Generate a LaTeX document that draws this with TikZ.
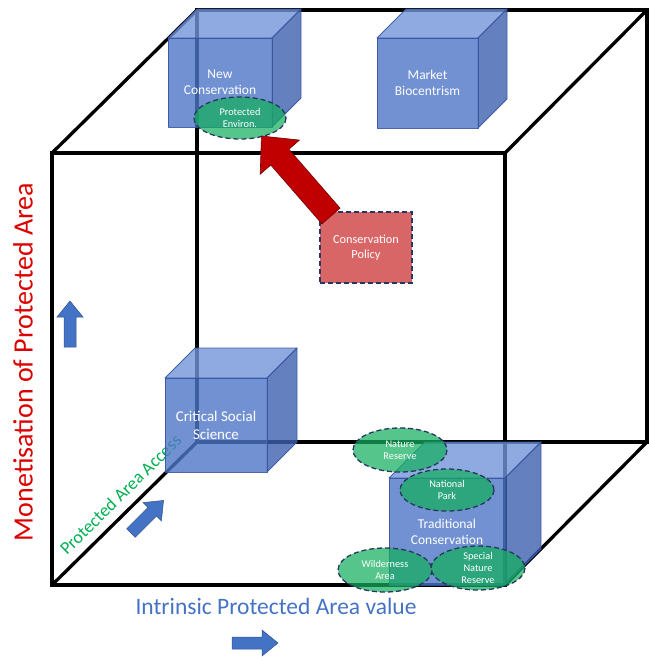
\documentclass[tikz,border=0pt]{standalone}
\usepackage{fontspec}
\setmainfont{Carlito}
\usetikzlibrary{shapes.geometric}
\definecolor{cfront}{RGB}{77,118,199}
\definecolor{ctop}{RGB}{115,149,217}
\definecolor{cside}{RGB}{61,96,174}
\definecolor{cedge}{RGB}{55,85,160}
\definecolor{ellfill}{RGB}{20,175,95}
\definecolor{elledge}{RGB}{40,55,95}
\definecolor{policyfill}{RGB}{217,102,102}
\definecolor{arrowred}{RGB}{192,0,0}
\definecolor{bluearr}{RGB}{68,114,196}
\definecolor{bluearredge}{RGB}{47,82,143}
\definecolor{axisred}{RGB}{220,0,0}
\definecolor{axisgreen}{RGB}{0,176,80}
\tikzset{
  bigedge/.style={line width=3.3pt, black, line join=miter},
  cubeface/.style={draw=cedge, line width=0.9pt, fill opacity=0.8, draw opacity=0.9, line join=round},
  cubetext/.style={text=white, align=center},
  ell/.style={draw=elledge, fill=ellfill, fill opacity=0.72, line width=1.3pt, dash pattern=on 5pt off 3pt},
  elltext/.style={text=white, align=center, font=\fontsize{10.3}{11.8}\selectfont},
  policy/.style={draw=elledge, fill=policyfill, line width=1.3pt, dash pattern=on 5pt off 3pt,
     minimum width=92pt, minimum height=71pt, text=white, align=center, font=\fontsize{12.3}{15}\selectfont},
  redarr/.style={fill=arrowred, draw=arrowred!60!black, line width=0.6pt},
  bluearrow/.style={fill=bluearr, draw=bluearredge, line width=0.5pt}
}
\newcommand\mycube[9]{%
  \path[cubeface, fill=ctop] (#2,#3) -- ++(#6,-#6) -- ++(#4,0) -- ++(-#6,#6) -- cycle;
  \path[cubeface, fill=cside] (#2+#4,#3) -- ++(#6,-#6) -- ++(0,#5) -- ++(-#6,#6) -- cycle;
  \path[cubeface, fill=cfront] (#2,#3) rectangle ++(#4,#5);
  \node[cubetext, font=\fontsize{#8}{#9}\selectfont] (#1) at (#2+#4/2,#3+#5/2) {#7};
}
\newcommand\myblue[3]{%
  \begin{scope}[shift={(#1,#2)}, rotate=#3]
    \draw[bluearrow] (0,-6) -- (30,-6) -- (30,-13) -- (46,0) -- (30,13) -- (30,6) -- (0,6) -- cycle;
  \end{scope}
}
\begin{document}
\begin{tikzpicture}[x=1pt,y=-1pt]
\useasboundingbox (0,0) rectangle (649,657);
% big cube
\coordinate (ftl) at (52,153);
\coordinate (ftr) at (505,153);
\coordinate (fbr) at (505,585);
\coordinate (fbl) at (52,585);
\coordinate (btl) at (197,10);
\coordinate (btr) at (647,10);
\coordinate (bbr) at (647,442);
\coordinate (bbl) at (197,442);
\draw[bigedge] (btl) -- (btr) -- (bbr) -- (bbl) -- cycle;
\draw[bigedge] (ftl) -- (ftr) -- (fbr) -- (fbl) -- cycle;
\draw[bigedge] (ftl) -- (btl);
\draw[bigedge] (ftr) -- (btr);
\draw[bigedge] (fbr) -- (bbr);
\draw[bigedge] (fbl) -- (bbl);
% diagonal axis label
\node[rotate=44.6, text=axisgreen, font=\fontsize{18}{20}\selectfont] (paa) at (120.5,494.5) {Protected Area Access};
% cubes
\mycube{nc}{168}{38}{104}{89}{29}{New\\Conservation}{13.5}{16}
\mycube{mb}{377}{38}{101}{90}{29}{Market\\Biocentrism}{13.5}{16}
\mycube{css}{165}{378}{102}{94}{30}{Critical Social\\Science}{15}{18}
\mycube{tc}{389}{478}{116}{107}{36}{Traditional\\Conservation}{13.5}{16}
% ellipses
\draw[ell] (240,118) ellipse [x radius=46, y radius=21];
\node[elltext] (pe) at (240,118) {Protected\\Environ.};
\draw[ell] (400,450) ellipse [x radius=47, y radius=22];
\node[elltext] (nr) at (400,450) {Nature\\Reserve};
\draw[ell] (447,490) ellipse [x radius=47, y radius=21];
\node[elltext] (np) at (447,490) {National\\Park};
\draw[ell] (385,570) ellipse [x radius=47, y radius=22];
\node[elltext] (wa) at (385,570) {Wilderness\\Area};
\draw[ell] (478,568) ellipse [x radius=47, y radius=22];
\node[elltext] (snr) at (478,568) {Special\\Nature\\Reserve};
% policy box and red arrow
\node[policy] (cp) at (366,247.5) {Conservation\\Policy};
\begin{scope}[shift={(331,216)}, rotate=131]
  \draw[redarr] (0,-12) -- (78,-12) -- (78,-26) -- (106,0) -- (78,26) -- (78,12) -- (0,12) -- cycle;
\end{scope}
% axis labels
\node[rotate=90, text=axisred, font=\fontsize{28}{30}\selectfont] (mon) at (23,362) {Monetisation of Protected Area};
\node[text=bluearr, font=\fontsize{23.5}{26}\selectfont] (ipa) at (276,606) {Intrinsic Protected Area value};
% blue arrows
\myblue{70}{347}{90}
\myblue{232}{643}{0}
\myblue{131}{533}{45}
\end{tikzpicture}
\end{document}
